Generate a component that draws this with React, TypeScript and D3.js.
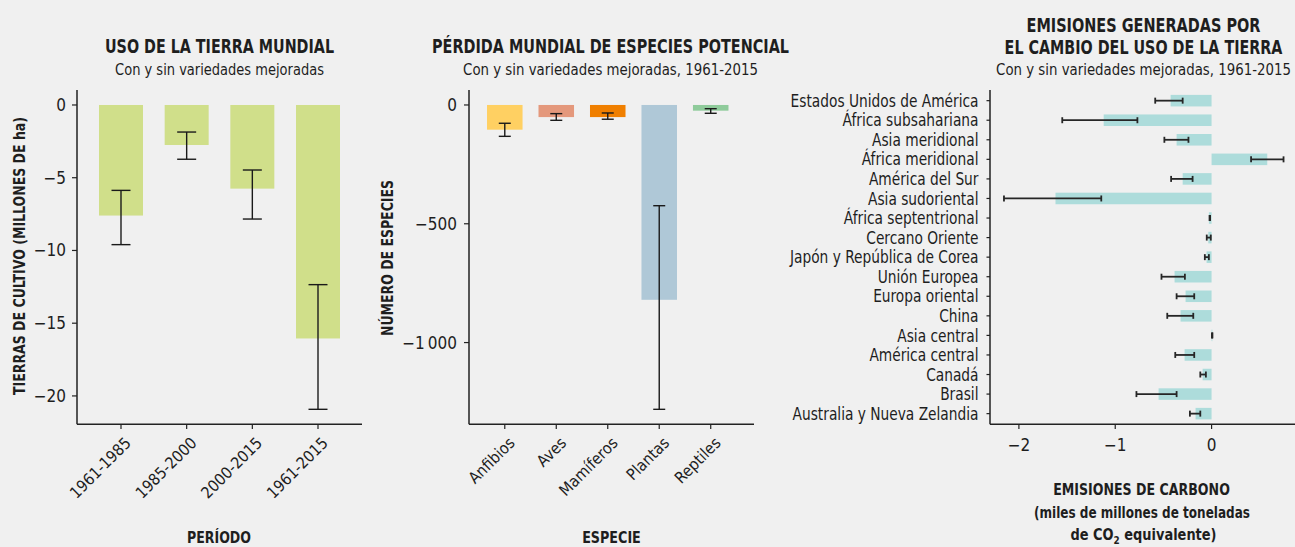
import React, { useLayoutEffect, useRef, useState } from "react";
import * as d3 from "d3";

// ---------- DATA ----------
const periods = ["1961-1985", "1985-2000", "2000-2015", "1961-2015"];
const landValues = [-7.6, -2.75, -5.75, -16.05];
const landErrLow = [-9.6, -3.73, -7.84, -20.92];
const landErrHigh = [-5.87, -1.86, -4.47, -12.35];
const landTicks = [0, -5, -10, -15, -20];

const species = ["Anfibios", "Aves", "Mamíferos", "Plantas", "Reptiles"];
const speciesValues = [-104, -51, -51, -820, -24];
const speciesErrLow = [-132, -64.6, -60, -1281, -35];
const speciesErrHigh = [-77, -36.5, -33.7, -424, -15.6];
const speciesColors = ["#FFD062", "#E4987C", "#F07F00", "#AFC8D7", "#8FCB9B"];
const speciesTicks = [0, -500, -1000];

const regions = [
  "Estados Unidos de América",
  "África subsahariana",
  "Asia meridional",
  "África meridional",
  "América del Sur",
  "Asia sudoriental",
  "África septentrional",
  "Cercano Oriente",
  "Japón y República de Corea",
  "Unión Europea",
  "Europa oriental",
  "China",
  "Asia central",
  "América central",
  "Canadá",
  "Brasil",
  "Australia y Nueva Zelandia",
];
const emissionValues = [-0.425, -1.12, -0.363, 0.578, -0.3, -1.62, -0.028, -0.034, -0.052, -0.384, -0.27, -0.322, 0.008, -0.28, -0.093, -0.55, -0.166];
const emissionErrLow = [-0.585, -1.55, -0.49, 0.41, -0.42, -2.155, -0.021, -0.05, -0.07, -0.52, -0.363, -0.46, 0.004, -0.377, -0.117, -0.78, -0.225];
const emissionErrHigh = [-0.3, -0.77, -0.24, 0.747, -0.197, -1.145, -0.015, -0.008, -0.028, -0.277, -0.18, -0.19, 0.009, -0.18, -0.059, -0.363, -0.117];
const emissionTicks = [-2, -1, 0];

// ---------- STYLE ----------
const FONT = "'Liberation Sans Narrow', 'DejaVu Sans Condensed', 'Roboto', sans-serif";
const BG = "#F0F0F0";
const TEXT = "#1e1e1e";
const AXIS = "#222";
const ERR = "#1a1a1a";

const fmtMinus = (v: number) => (v < 0 ? "\u2212" : "") + Math.abs(v).toString();
const fmtThousands = (v: number) => {
  const s = Math.abs(v).toString().replace(/\B(?=(\d{3})+(?!\d))/g, "\u2009");
  return (v < 0 ? "\u2212" : "") + s;
};

// text horizontally scaled so that it occupies a given width
function FitText(props: { x: number; y: number; w: number; size: number; bold?: boolean; children: React.ReactNode; rotate?: boolean }) {
  const { x, y, w, size, bold, children, rotate } = props;
  const ref = useRef<SVGTextElement>(null);
  const [s, setS] = useState(0.85);
  useLayoutEffect(() => {
    const measure = () => {
      if (ref.current) {
        const L = ref.current.getComputedTextLength();
        if (L > 0) setS(w / L);
      }
    };
    measure();
    if ((document as any).fonts && (document as any).fonts.ready) {
      (document as any).fonts.ready.then(measure);
    }
  }, [w]);
  const tr = rotate
    ? `translate(${x},${y}) rotate(-90) scale(${s},1)`
    : `translate(${x},${y}) scale(${s},1)`;
  return (
    <text
      ref={ref}
      transform={tr}
      textAnchor="middle"
      fontWeight={bold ? "bold" : "normal"}
      fontSize={size}
      fill={TEXT}
    >
      {children}
    </text>
  );
}

function LandChart() {
  const x = d3.scaleBand<string>().domain(periods).range([77, 362]).paddingInner(0.33).paddingOuter(0.335);
  const y = d3.scaleLinear().domain([-21.95, 1.03]).range([424.3, 90]);
  const bw = x.bandwidth();
  const cx = 219.5;
  return (
    <g>
      <FitText x={cx} y={52.5} w={229} size={20} bold>USO DE LA TIERRA MUNDIAL</FitText>
      <FitText x={cx} y={74.5} w={209} size={16}>Con y sin variedades mejoradas</FitText>
      {periods.map((p, i) => (
        <rect key={p} x={x(p)} y={y(0)} width={bw} height={y(landValues[i]) - y(0)} fill="#D0DF8A" />
      ))}
      {periods.map((p, i) => {
        const c = (x(p) as number) + bw / 2;
        return (
          <g key={p} stroke={ERR} strokeWidth={1.4}>
            <line x1={c} x2={c} y1={y(landErrHigh[i])} y2={y(landErrLow[i])} />
            <line x1={c - 9.5} x2={c + 9.5} y1={y(landErrHigh[i])} y2={y(landErrHigh[i])} />
            <line x1={c - 9.5} x2={c + 9.5} y1={y(landErrLow[i])} y2={y(landErrLow[i])} />
          </g>
        );
      })}
      <line x1={77} x2={77} y1={90} y2={424.3} stroke={AXIS} strokeWidth={1.5} />
      <line x1={77} x2={362} y1={424.3} y2={424.3} stroke={AXIS} strokeWidth={1.5} />
      {landTicks.map((t) => (
        <g key={t}>
          <line x1={72} x2={77} y1={y(t)} y2={y(t)} stroke={AXIS} strokeWidth={1.2} />
          <text x={66} y={y(t)} dy="0.35em" textAnchor="end" fontSize={17} fill={TEXT}>{fmtMinus(t)}</text>
        </g>
      ))}
      {periods.map((p) => {
        const c = (x(p) as number) + bw / 2;
        return (
          <g key={p}>
            <line x1={c} x2={c} y1={424.3} y2={429} stroke={AXIS} strokeWidth={1.2} />
            <text transform={`translate(${c + 7},${440}) rotate(-45)`} textAnchor="end" dy="0.35em" fontSize={16} fill={TEXT}>{p}</text>
          </g>
        );
      })}
      <FitText x={25} y={256} w={278} size={16} bold rotate>TIERRAS DE CULTIVO (MILLONES DE ha)</FitText>
      <FitText x={219} y={543} w={64} size={16} bold>PERÍODO</FitText>
    </g>
  );
}

function SpeciesChart() {
  const x = d3.scaleBand<string>().domain(species).range([469, 746.5]).paddingInner(0.31).paddingOuter(0.35);
  const y = d3.scaleLinear().domain([-1344, 63]).range([424.3, 90]);
  const bw = x.bandwidth();
  const cx = 610.5;
  return (
    <g>
      <FitText x={cx} y={52.5} w={357} size={20} bold>PÉRDIDA MUNDIAL DE ESPECIES POTENCIAL</FitText>
      <FitText x={cx} y={74.5} w={295} size={16}>Con y sin variedades mejoradas, 1961-2015</FitText>
      {species.map((s, i) => (
        <rect key={s} x={x(s)} y={y(0)} width={bw} height={y(speciesValues[i]) - y(0)} fill={speciesColors[i]} />
      ))}
      {species.map((s, i) => {
        const c = (x(s) as number) + bw / 2;
        return (
          <g key={s} stroke={ERR} strokeWidth={1.4}>
            <line x1={c} x2={c} y1={y(speciesErrHigh[i])} y2={y(speciesErrLow[i])} />
            <line x1={c - 6} x2={c + 6} y1={y(speciesErrHigh[i])} y2={y(speciesErrHigh[i])} />
            <line x1={c - 6} x2={c + 6} y1={y(speciesErrLow[i])} y2={y(speciesErrLow[i])} />
          </g>
        );
      })}
      <line x1={469} x2={469} y1={90} y2={424.3} stroke={AXIS} strokeWidth={1.5} />
      <line x1={469} x2={754} y1={424.3} y2={424.3} stroke={AXIS} strokeWidth={1.5} />
      {speciesTicks.map((t) => (
        <g key={t}>
          <line x1={464} x2={469} y1={y(t)} y2={y(t)} stroke={AXIS} strokeWidth={1.2} />
          <text x={457} y={y(t)} dy="0.35em" textAnchor="end" fontSize={17} fill={TEXT}>{fmtThousands(t)}</text>
        </g>
      ))}
      {species.map((s) => {
        const c = (x(s) as number) + bw / 2;
        return (
          <g key={s}>
            <line x1={c} x2={c} y1={424.3} y2={429} stroke={AXIS} strokeWidth={1.2} />
            <text transform={`translate(${c + 7},${440}) rotate(-45)`} textAnchor="end" dy="0.35em" fontSize={16} fill={TEXT}>{s}</text>
          </g>
        );
      })}
      <FitText x={393} y={258} w={156} size={16} bold rotate>NÚMERO DE ESPECIES</FitText>
      <FitText x={611.5} y={543} w={58.7} size={16} bold>ESPECIE</FitText>
    </g>
  );
}

function EmissionsChart() {
  const x = d3.scaleLinear().domain([-2.3, 0.866]).range([990, 1295]);
  const y = d3.scaleBand<string>().domain(regions).range([90, 424.3]).paddingInner(0.41).paddingOuter(0.25);
  const bh = y.bandwidth();
  const cx = 1143.5;
  return (
    <g>
      <FitText x={cx} y={31.5} w={234} size={20} bold>EMISIONES GENERADAS POR</FitText>
      <FitText x={cx} y={54} w={278} size={20} bold>EL CAMBIO DEL USO DE LA TIERRA</FitText>
      <FitText x={cx} y={75} w={295} size={16}>Con y sin variedades mejoradas, 1961-2015</FitText>
      {regions.map((r, i) => {
        const v = emissionValues[i];
        return (
          <rect key={r} x={x(Math.min(0, v))} y={y(r)} width={Math.abs(x(v) - x(0))} height={bh} fill="#ADDCDB" />
        );
      })}
      {regions.map((r, i) => {
        const c = (y(r) as number) + bh / 2;
        return (
          <g key={r} stroke="#262626" strokeWidth={1.8}>
            <line x1={x(emissionErrLow[i])} x2={x(emissionErrHigh[i])} y1={c} y2={c} />
            <line x1={x(emissionErrLow[i])} x2={x(emissionErrLow[i])} y1={c - 3} y2={c + 3} />
            <line x1={x(emissionErrHigh[i])} x2={x(emissionErrHigh[i])} y1={c - 3} y2={c + 3} />
          </g>
        );
      })}
      <line x1={990} x2={990} y1={90} y2={424.3} stroke={AXIS} strokeWidth={1.5} />
      <line x1={990} x2={1295} y1={424.3} y2={424.3} stroke={AXIS} strokeWidth={1.5} />
      {regions.map((r) => {
        const c = (y(r) as number) + bh / 2;
        return (
          <g key={r}>
            <line x1={986.5} x2={990} y1={c} y2={c} stroke={AXIS} strokeWidth={1.2} />
            <text transform={`translate(978.5,${c}) scale(0.9,1)`} dy="0.36em" textAnchor="end" fontSize={17} fill={TEXT}>{r}</text>
          </g>
        );
      })}
      {emissionTicks.map((t) => (
        <g key={t}>
          <line x1={x(t)} x2={x(t)} y1={424.3} y2={429} stroke={AXIS} strokeWidth={1.2} />
          <text x={x(t)} y={450.5} textAnchor="middle" fontSize={17} fill={TEXT}>{fmtMinus(t)}</text>
        </g>
      ))}
      <FitText x={1141.5} y={495} w={176.7} size={16} bold>EMISIONES DE CARBONO</FitText>
      <FitText x={1142} y={517.5} w={216} size={16} bold>(miles de millones de toneladas</FitText>
      <text transform="translate(1143.5,540) scale(0.9,1)" textAnchor="middle" fontWeight="bold" fontSize={16} fill={TEXT}>
        de CO<tspan fontSize={11} dy={4}>2</tspan><tspan dy={-4}> equivalente)</tspan>
      </text>
    </g>
  );
}

export default function App() {
  return (
    <svg
      width={1295}
      height={547}
      style={{ position: "absolute", top: 0, left: 0, background: BG, display: "block" }}
      fontFamily={FONT}
    >
      <rect x={0} y={0} width={1295} height={547} fill={BG} />
      <LandChart />
      <SpeciesChart />
      <EmissionsChart />
    </svg>
  );
}
